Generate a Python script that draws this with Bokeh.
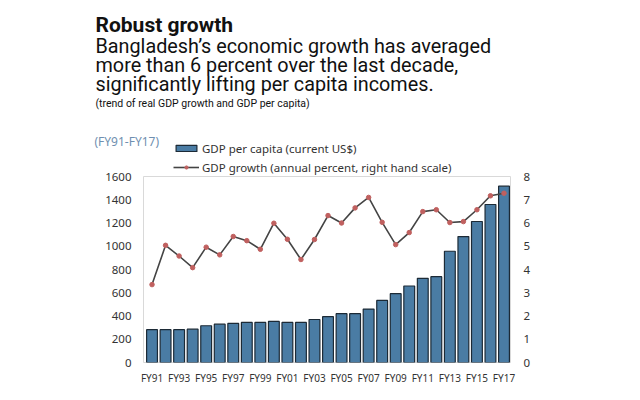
from bokeh.plotting import figure
from bokeh.layouts import column
from bokeh.models import (Range1d, LinearAxis, FixedTicker, Label, Legend, LegendItem,
                          ColumnDataSource)
from bokeh.embed import file_html
from bokeh.resources import INLINE

# ---- data ----
years = ["FY91", "FY92", "FY93", "FY94", "FY95", "FY96", "FY97", "FY98", "FY99",
         "FY00", "FY01", "FY02", "FY03", "FY04", "FY05", "FY06", "FY07", "FY08",
         "FY09", "FY10", "FY11", "FY12", "FY13", "FY14", "FY15", "FY16", "FY17"]
gdp_per_capita = [282, 282, 282, 287, 316, 330, 336, 345, 345, 353, 345, 345, 370,
                  394, 420, 420, 460, 534, 592, 658, 724, 738, 957, 1083, 1213,
                  1359, 1517]
gdp_growth = [3.35, 5.04, 4.58, 4.08, 4.96, 4.63, 5.42, 5.24, 4.87, 5.99, 5.30,
              4.43, 5.29, 6.32, 6.00, 6.65, 7.10, 6.03, 5.07, 5.59, 6.49, 6.57,
              6.02, 6.06, 6.57, 7.17, 7.28]
left_ticks = [0, 200, 400, 600, 800, 1000, 1200, 1400, 1600]
right_ticks = [0, 1, 2, 3, 4, 5, 6, 7, 8]

title = "Robust growth"
subtitle_lines = ["Bangladesh\u2019s economic growth has averaged",
                  "more than 6 percent over the last decade,",
                  "significantly lifting per capita incomes."]
note = "(trend of real GDP growth and GDP per capita)"
period = "(FY91-FY17)"
bar_label = "GDP per capita (current US$)"
line_label = "GDP growth (annual percent, right hand scale)"

# ---- styles ----
BAR_FILL, BAR_LINE = "#4a7ca4", "#1c2a36"
LINE_COL, MARK_COL = "#444444", "#c0605f"
lab_font = "Noto Sans"

# ---- geometry ----
W = 640
TOP_H = 176            # header height (titles + legend)
OVERLAP = 8
F_LEFT, F_RIGHT = 143, 510
FRAME_H = 186
BOTTOM_B = 38
X0, X1 = -0.63, 26.48

# ---------------- header figure (texts + legend) ----------------
t = figure(width=W, height=TOP_H, output_backend="svg", toolbar_location=None,
           x_range=Range1d(0, W), y_range=Range1d(TOP_H, 0),
           min_border_left=0, min_border_right=0, min_border_top=0,
           min_border_bottom=0, x_axis_location=None, y_axis_location=None)
t.frame_align = False
t.outline_line_color = None
t.grid.visible = False
t.background_fill_color = "white"
t.border_fill_color = "white"

t.add_layout(Label(x=95, y=24, text=title, text_font="Roboto",
                   text_font_style="bold", text_font_size="21px", text_color="#111111",
                   text_baseline="alphabetic"))
for i, s in enumerate(subtitle_lines):
    t.add_layout(Label(x=95, y=46 + 19 * i, text=s, text_font="Roboto",
                       text_font_size="19.8px", text_color="#111111",
                       text_baseline="alphabetic"))
t.add_layout(Label(x=95, y=103, text=note, text_font="Roboto",
                   text_font_size="10.5px", text_color="#111111",
                   text_baseline="alphabetic"))
t.add_layout(Label(x=94, y=141, text=period, text_font=lab_font,
                   text_font_size="12px", text_color="#6f8fb0",
                   text_baseline="middle"))

# legend swatches: renderers with no drawable point, only their styles are used
nan = float("nan")
lb = t.vbar(x=[nan], top=[nan], width=1, fill_color=BAR_FILL, line_color=BAR_LINE,
            line_width=1.2)
ll = t.line(x=[nan], y=[nan], line_color=LINE_COL, line_width=1.6)
ls = t.scatter(x=[nan], y=[nan], marker="circle", size=4.5, fill_color=MARK_COL,
               line_color=MARK_COL)
legend = Legend(items=[LegendItem(label=bar_label, renderers=[lb]),
                       LegendItem(label=line_label, renderers=[ll, ls])],
                location=(173, 0), orientation="vertical",
                glyph_width=26, glyph_height=8, label_height=18, spacing=1,
                label_standoff=3, padding=0, margin=0, border_line_color=None,
                background_fill_alpha=0, label_text_font=lab_font,
                label_text_font_size="11.5px", label_text_color="#333333")
t.add_layout(legend, "center")

# ---------------- chart figure ----------------
idx = list(range(len(years)))
src = ColumnDataSource(dict(x=idx, gdp=gdp_per_capita, growth=gdp_growth))

p = figure(width=W, height=OVERLAP + FRAME_H + BOTTOM_B, output_backend="svg",
           toolbar_location=None,
           x_range=Range1d(X0, X1), y_range=Range1d(0, 1600),
           min_border_left=F_LEFT, min_border_right=W - F_RIGHT,
           min_border_top=OVERLAP, min_border_bottom=BOTTOM_B,
           x_axis_location=None, y_axis_location=None)
p.frame_align = False
p.margin = (-OVERLAP, 0, 0, 0)
p.extra_y_ranges = {"growth": Range1d(0, 8)}
p.background_fill_color = "white"
p.border_fill_color = None
p.outline_line_color = "#d9d9d9"
p.outline_line_width = 1
p.grid.visible = False

p.vbar(x="x", top="gdp", width=0.8, source=src, fill_color=BAR_FILL,
       line_color=BAR_LINE, line_width=1.2)
p.line(x="x", y="growth", source=src, y_range_name="growth",
       line_color=LINE_COL, line_width=1.6)
p.scatter(x="x", y="growth", source=src, y_range_name="growth",
          marker="circle", size=4.5, fill_color=MARK_COL, line_color=MARK_COL)

xaxis = LinearAxis(ticker=FixedTicker(ticks=idx[::2]),
                   major_label_overrides={i: years[i] for i in idx[::2]})
yaxis = LinearAxis(ticker=FixedTicker(ticks=left_ticks))
raxis = LinearAxis(y_range_name="growth", ticker=FixedTicker(ticks=right_ticks))
for ax in (xaxis, yaxis, raxis):
    ax.axis_line_color = None
    ax.major_tick_line_color = None
    ax.minor_tick_line_color = None
    ax.major_label_text_font = lab_font
    ax.major_label_text_color = "#333333"
xaxis.major_label_text_font_size = "10px"
xaxis.major_label_standoff = 2
yaxis.major_label_text_font_size = "11.5px"
yaxis.major_label_standoff = 6
raxis.major_label_text_font_size = "11.5px"
raxis.major_label_standoff = 7
p.add_layout(xaxis, "below")
p.add_layout(yaxis, "left")
p.add_layout(raxis, "right")

layout = column(t, p, spacing=0)
open("out.html", "w").write(file_html(layout, INLINE))
